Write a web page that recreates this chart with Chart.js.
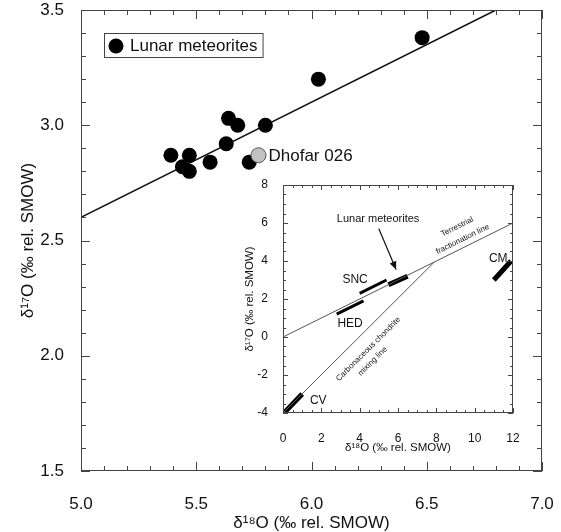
<!DOCTYPE html>
<html>
<head>
<meta charset="utf-8">
<script src="https://cdn.jsdelivr.net/npm/chart.js@4.4.1/dist/chart.umd.min.js"></script>
<style>
  body { margin: 0; background: #fff; }
  #wrap { position: relative; width: 561px; height: 532px; }
  #main { position: absolute; left: 0; top: 0; }
  #inset { position: absolute; left: 236px; top: 176px; }
</style>
</head>
<body>
<div id="wrap">
  <canvas id="main" width="561" height="532"></canvas>
  <canvas id="inset" width="290" height="278"></canvas>
</div>
<script>
// main panel: lunar meteorites
const lunarX = [5.39, 5.44, 5.47, 5.47, 5.56, 5.63, 5.64, 5.68, 5.73, 5.80, 6.03, 6.48];
const lunarY = [2.87, 2.82, 2.87, 2.80, 2.84, 2.92, 3.03, 3.00, 2.84, 3.00, 3.20, 3.38];
const dhofarX = [5.77];
const dhofarY = [2.87];
const fitX = [5.0, 6.8];
const fitY = [2.60, 3.50];
const mainXTicks = [5.0, 5.5, 6.0, 6.5, 7.0];
const mainYTicks = [1.5, 2.0, 2.5, 3.0, 3.5];

// inset panel: reference lines and meteorite groups
const tflX = [0, 12];
const tflY = [0, 6.0];
const ccamX = [0, 7.9];
const ccamY = [-4.0, 3.95];
const groupNames = ['CV', 'HED', 'SNC', 'Lunar meteorites', 'CM'];
const groupX0 = [0.05, 2.8, 4.0, 5.5, 11.0];
const groupY0 = [-4.0, 1.2, 2.3, 2.75, 3.0];
const groupX1 = [1.0, 4.2, 5.4, 6.5, 11.9];
const groupY1 = [-3.0, 1.9, 3.0, 3.2, 4.0];
const arrowX = [5.0, 5.9];
const arrowY = [5.7, 3.55];
const insetXTicks = [0, 2, 4, 6, 8, 10, 12];
const insetYTicks = [-4, -2, 0, 2, 4, 6, 8];

const groupWidths = [5, 3, 3, 5, 5];
const FONT = "'Liberation Sans', Arial, Helvetica, sans-serif";
Chart.defaults.font.family = FONT;
Chart.defaults.color = '#111';

const pts = (xs, ys) => xs.map((x, i) => ({ x: x, y: ys[i] }));

// keep label overhang from pushing the plot box inwards
const noPad = s => { s.paddingLeft = 0; s.paddingRight = 0; s.paddingTop = 0; s.paddingBottom = 0; };

// box round the plot with inward ticks on all four sides
const frameTicks = {
  id: 'frameTicks',
  afterDraw(chart, args, o) {
    const { ctx, chartArea: a, scales } = chart;
    ctx.save();
    ctx.strokeStyle = o.color;
    ctx.lineWidth = 1;
    ctx.strokeRect(Math.round(a.left) + 0.5, Math.round(a.top) + 0.5,
      Math.round(a.right - a.left) - 1, Math.round(a.bottom - a.top) - 1);
    const marks = (scale, cb) => {
      const n = Math.round((scale.max - scale.min) / o.minor);
      for (let i = 0; i <= n; i++) {
        const v = scale.min + i * o.minor;
        const r = v / o.major;
        const len = Math.abs(r - Math.round(r)) < 1e-6 ? o.majorLen : o.minorLen;
        cb(Math.round(scale.getPixelForValue(v)) + 0.5, len);
      }
    };
    ctx.beginPath();
    marks(scales.x, (px, len) => {
      ctx.moveTo(px, a.bottom); ctx.lineTo(px, a.bottom - len);
      ctx.moveTo(px, a.top); ctx.lineTo(px, a.top + len);
    });
    marks(scales.y, (py, len) => {
      ctx.moveTo(a.left, py); ctx.lineTo(a.left + len, py);
      ctx.moveTo(a.right, py); ctx.lineTo(a.right - len, py);
    });
    ctx.stroke();
    ctx.restore();
  }
};

// legend box and the Dhofar 026 label
const mainNotes = {
  id: 'mainNotes',
  afterDraw(chart) {
    const { ctx, chartArea: a } = chart;
    const lunar = chart.data.datasets[1];
    ctx.save();
    ctx.font = '17px ' + FONT;
    ctx.textBaseline = 'middle';
    const bx = a.left + 23, by = a.top + 23;
    const w = 26 + ctx.measureText(lunar.label).width + 5;
    ctx.strokeStyle = '#444';
    ctx.lineWidth = 1;
    ctx.strokeRect(bx + 0.5, by + 0.5, w, 24);
    ctx.fillStyle = '#000';
    ctx.beginPath();
    ctx.arc(bx + 12, by + 13, lunar.pointRadius, 0, Math.PI * 2);
    ctx.fill();
    ctx.fillStyle = '#111';
    ctx.fillText(lunar.label, bx + 26, by + 13);

    const el = chart.getDatasetMeta(0).data[0];
    ctx.fillText(chart.data.datasets[0].label, el.x + 10, el.y + 1);
    ctx.restore();
  }
};

new Chart(document.getElementById('main'), {
  type: 'scatter',
  data: {
    datasets: [
      { label: 'Dhofar 026', data: pts(dhofarX, dhofarY), backgroundColor: '#c2c2c2',
        borderColor: '#555', borderWidth: 1, pointRadius: 7.5, order: 1 },
      { label: 'Lunar meteorites', data: pts(lunarX, lunarY), backgroundColor: '#000',
        borderColor: '#000', borderWidth: 0, pointRadius: 7.5, order: 2 },
      { label: 'fit', data: pts(fitX, fitY), showLine: true, borderColor: '#111',
        borderWidth: 1.5, pointRadius: 0, order: 3 }
    ]
  },
  options: {
    responsive: false,
    animation: false,
    events: [],
    layout: { padding: { top: 10, right: 19, bottom: 0, left: 0 } },
    plugins: {
      legend: { display: false },
      tooltip: { enabled: false },
      frameTicks: { color: '#444', major: 0.5, minor: 0.1, majorLen: 9, minorLen: 5 }
    },
    scales: {
      x: {
        type: 'linear', min: 5, max: 7,
        afterBuildTicks: s => { s.ticks = mainXTicks.map(v => ({ value: v })); },
        ticks: { callback: v => v.toFixed(1), font: { size: 17, lineHeight: 1 }, padding: 17, maxRotation: 0 },
        grid: { display: false },
        border: { display: false },
        title: { display: true, text: 'δ¹⁸O (‰ rel. SMOW)', font: { size: 17, lineHeight: 1 }, padding: { top: 0, bottom: 0 } },
        afterFit: s => { s.height = 61; noPad(s); }
      },
      y: {
        type: 'linear', min: 1.5, max: 3.5,
        afterBuildTicks: s => { s.ticks = mainYTicks.map(v => ({ value: v })); },
        ticks: { callback: v => v.toFixed(1), font: { size: 17, lineHeight: 1 }, padding: 9 },
        grid: { display: false },
        border: { display: false },
        title: { display: true, text: 'δ¹⁷O (‰ rel. SMOW)', font: { size: 17, lineHeight: 1 }, padding: { top: 20, bottom: 0 } },
        afterFit: s => { s.width = 81; noPad(s); }
      }
    }
  },
  plugins: [frameTicks, mainNotes]
});

// inset labels, rotated line names and arrow head
const insetNotes = {
  id: 'insetNotes',
  afterDraw(chart) {
    const { ctx, scales: { x, y } } = chart;
    ctx.save();
    ctx.fillStyle = '#111';
    ctx.textAlign = 'center';
    ctx.textBaseline = 'middle';
    const put = (text, vx, vy, size) => {
      ctx.font = size + 'px ' + FONT;
      ctx.fillText(text, x.getPixelForValue(vx), y.getPixelForValue(vy));
    };
    put('Lunar meteorites', 4.96, 6.23, 11);
    put('SNC', 3.76, 3.0, 12);
    put('HED', 3.5, 0.68, 12);
    put('CM', 11.23, 4.14, 12);
    put('CV', 1.84, -3.37, 12);

    const along = (lx, ly, lines, anchors) => {
      const ang = Math.atan2(y.getPixelForValue(ly[1]) - y.getPixelForValue(ly[0]),
        x.getPixelForValue(lx[1]) - x.getPixelForValue(lx[0]));
      ctx.font = '8px ' + FONT;
      lines.forEach((t, i) => {
        ctx.save();
        ctx.translate(x.getPixelForValue(anchors[i][0]), y.getPixelForValue(anchors[i][1]));
        ctx.rotate(ang);
        ctx.fillText(t, 0, 0);
        ctx.restore();
      });
    };
    along(tflX, tflY, ['Terrestrial', 'fractionation line'], [[9.09, 5.8], [9.37, 5.14]]);
    along(ccamX, ccamY, ['Carbonaceous chondrite', 'mixing line'], [[4.45, -0.64], [4.68, -1.28]]);

    // arrow head at the end of the arrow line
    const tx = x.getPixelForValue(arrowX[1]), ty = y.getPixelForValue(arrowY[1]);
    const ang = Math.atan2(ty - y.getPixelForValue(arrowY[0]), tx - x.getPixelForValue(arrowX[0]));
    ctx.translate(tx, ty);
    ctx.rotate(ang);
    ctx.beginPath();
    ctx.moveTo(0, 0);
    ctx.lineTo(-8, -3.5);
    ctx.lineTo(-8, 3.5);
    ctx.closePath();
    ctx.fill();
    ctx.restore();
  }
};

const insetSets = [
  { data: pts(tflX, tflY), borderColor: '#555', borderWidth: 1 },
  { data: pts(ccamX, ccamY), borderColor: '#555', borderWidth: 1 },
  { data: pts(arrowX, arrowY), borderColor: '#111', borderWidth: 1.2 }
];
groupNames.forEach((name, i) => {
  insetSets.push({
    label: name,
    data: pts([groupX0[i], groupX1[i]], [groupY0[i], groupY1[i]]),
    borderColor: '#000',
    borderWidth: groupWidths[i],
    borderCapStyle: 'butt'
  });
});
insetSets.forEach(d => { d.showLine = true; d.pointRadius = 0; });

new Chart(document.getElementById('inset'), {
  type: 'scatter',
  data: { datasets: insetSets },
  options: {
    responsive: false,
    animation: false,
    events: [],
    layout: { padding: { top: 9, right: 13, bottom: 0, left: 0 } },
    plugins: {
      legend: { display: false },
      tooltip: { enabled: false },
      frameTicks: { color: '#444', major: 2, minor: 0.5, majorLen: 5, minorLen: 3 }
    },
    scales: {
      x: {
        type: 'linear', min: 0, max: 12,
        afterBuildTicks: s => { s.ticks = insetXTicks.map(v => ({ value: v })); },
        ticks: { font: { size: 12, lineHeight: 1 }, padding: 12, maxRotation: 0 },
        grid: { display: false },
        border: { display: false },
        title: { display: true, text: 'δ¹⁸O (‰ rel. SMOW)', font: { size: 11.5, lineHeight: 1 }, padding: { top: 0, bottom: 0 } },
        afterFit: s => { s.height = 41; noPad(s); }
      },
      y: {
        type: 'linear', min: -4, max: 8,
        afterBuildTicks: s => { s.ticks = insetYTicks.map(v => ({ value: v })); },
        ticks: { font: { size: 12, lineHeight: 1 }, padding: 7 },
        grid: { display: false },
        border: { display: false },
        title: { display: true, text: 'δ¹⁷O (‰ rel. SMOW)', font: { size: 11.5, lineHeight: 1 }, padding: { top: 8, bottom: 0 } },
        afterFit: s => { s.width = 47; noPad(s); }
      }
    }
  },
  plugins: [frameTicks, insetNotes]
});
</script>
</body>
</html>
